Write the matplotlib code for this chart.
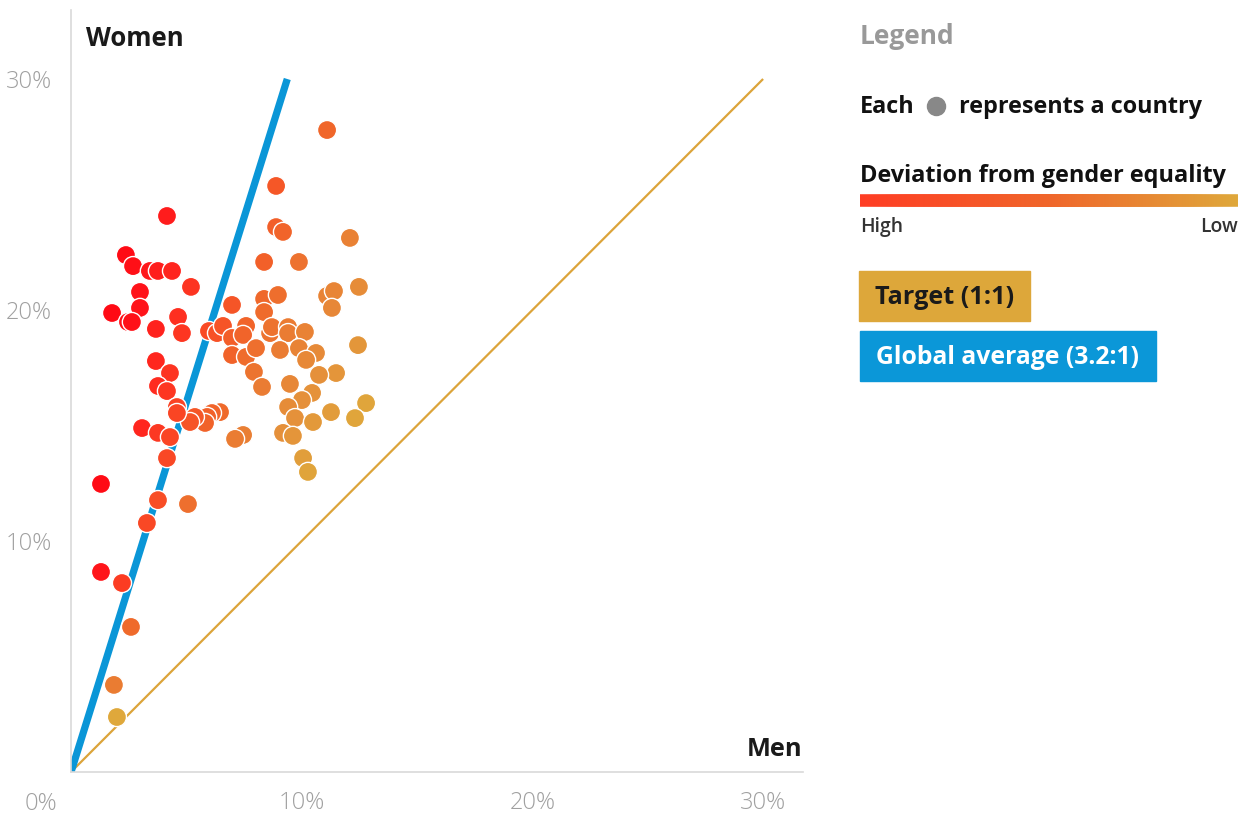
import matplotlib
matplotlib.use("Agg")
import matplotlib.pyplot as plt
import numpy as np
from matplotlib.colors import LinearSegmentedColormap, to_rgb
from matplotlib.patches import FancyBboxPatch
from matplotlib.lines import Line2D

# share of men / women (%) per country
men = [11.10, 4.16, 8.89, 8.89, 9.19, 2.38, 2.69, 3.42, 3.77, 4.38,
       8.37, 9.88, 12.09, 5.20, 2.99, 1.78, 2.99, 2.47, 2.64, 3.68,
       4.64, 4.81, 6.98, 8.37, 8.97, 8.37, 11.10, 11.40, 11.31, 12.48,
       5.98, 6.33, 6.59, 6.98, 6.98, 7.59, 7.46, 7.59, 8.02, 7.93,
       8.28, 8.63, 8.71, 9.41, 9.41, 10.14, 9.06, 9.88, 10.62, 10.19,
       11.49, 10.75, 12.44, 9.49, 10.45, 10.01, 9.41, 9.71, 11.27, 10.49,
       12.79, 12.31, 9.19, 9.62, 10.06, 10.27, 6.46, 6.11, 5.90, 5.81,
       5.37, 5.16, 7.46, 7.11, 3.68, 4.29, 3.77, 4.16, 4.59, 4.59,
       3.08, 3.77, 4.29, 4.16, 1.30, 3.77, 5.07, 3.29, 1.30, 2.21,
       2.60, 1.86, 1.99]
women = [27.79, 24.07, 25.37, 23.59, 23.38, 22.38, 21.90, 21.69, 21.69, 21.69,
         22.08, 22.08, 23.12, 21.00, 20.78, 19.87, 20.09, 19.48, 19.48, 19.18,
         19.70, 19.00, 20.22, 20.48, 20.65, 19.91, 20.61, 20.82, 20.09, 21.00,
         19.09, 19.00, 19.31, 18.79, 18.05, 19.31, 18.92, 17.97, 18.35, 17.32,
         16.67, 19.00, 19.26, 19.26, 19.00, 19.05, 18.27, 18.35, 18.14, 17.84,
         17.27, 17.19, 18.48, 16.80, 16.41, 16.10, 15.80, 15.32, 15.58, 15.15,
         15.97, 15.32, 14.68, 14.55, 13.59, 12.99, 15.58, 15.54, 15.37, 15.11,
         15.37, 15.15, 14.59, 14.42, 17.79, 17.27, 16.71, 16.49, 15.80, 15.54,
         14.89, 14.68, 14.50, 13.59, 12.47, 11.77, 11.60, 10.78, 8.66, 8.18,
         6.28, 3.77, 2.38]

global_ratio = 3.2
target_ratio = 1.0
tick_vals = [10, 20, 30]

# colour by women:men ratio (log scale), gold = near parity, red = far from it
ratio_stops = [1.2, 1.6, 2.0, 2.5, 3.2, 4.5, 7.0, 10.0]
stop_colors = ["#dfa83b", "#e5903a", "#ea7d33", "#f0662a", "#f94a25", "#ff2a1f", "#ff1219", "#ff0a14"]


def ratio_color(r):
    lr = np.log(np.clip(r, ratio_stops[0], ratio_stops[-1]))
    rgb = np.array([to_rgb(c) for c in stop_colors])
    ls = np.log(ratio_stops)
    return tuple(np.interp(lr, ls, rgb[:, k]) for k in range(3))


men = np.array(men)
women = np.array(women)
colors = [ratio_color(w / m) for m, w in zip(men, women)]

plt.rcParams['font.family'] = ['Open Sans', 'DejaVu Sans']


def fy(py):
    # pixel row from the top -> figure fraction
    return 1 - py / 816


fig = plt.figure(figsize=(12.51, 8.16), dpi=100)
ax = fig.add_axes([71 / 1251, 44 / 816, 732 / 1251, 762 / 816])
ax.set_xlim(0, 732 / 23.07)
ax.set_ylim(0, 762 / 23.1)

# reference lines
ax.plot([0, 30 / target_ratio], [0, 30], color="#dca43a", lw=1.6, zorder=2, solid_capstyle='butt')
ax.plot([0, 30 / global_ratio], [0, 30], color="#0a96d7", lw=5.2, zorder=2, solid_capstyle='butt')

ax.scatter(men, women, s=190, c=colors, edgecolors="white", linewidths=1.0, zorder=3)

for s in ['top', 'right']:
    ax.spines[s].set_visible(False)
for s in ['left', 'bottom']:
    ax.spines[s].set_color("#d9d9d9")
    ax.spines[s].set_linewidth(1.2)

ax.set_xticks(tick_vals)
ax.set_yticks(tick_vals)
ax.set_xticklabels([f"{v}%" for v in tick_vals])
ax.set_yticklabels([f"{v}%" for v in tick_vals])
ax.tick_params(axis='x', length=0, labelsize=17, labelcolor="#a0a0a0", pad=14)
ax.tick_params(axis='y', length=0, labelsize=17, labelcolor="#a0a0a0", pad=14)
for lab in ax.get_xticklabels() + ax.get_yticklabels():
    lab.set_fontweight('light')
fig.text(41 / 1251, fy(804), "0%", ha='center', va='center', fontsize=17,
         color="#a0a0a0", fontweight='light')

fig.text(86 / 1251, fy(38), "Women", ha='left', va='center', fontsize=18.5,
         fontweight='bold', color="#1a1a1a")
fig.text(802 / 1251, fy(750), "Men", ha='right', va='center', fontsize=18.3,
         fontweight='bold', color="#1a1a1a")

# legend panel
lx = 860 / 1251
fig.text(lx, fy(37), "Legend", ha='left', va='center', fontsize=19,
         fontweight='bold', color="#999999")
fig.text(lx, fy(107), "Each", ha='left', va='center', fontsize=16.8,
         fontweight='bold', color="#111111")
fig.add_artist(Line2D([936 / 1251], [fy(106)], marker='o', markersize=13,
                      color="#888888", transform=fig.transFigure))
fig.text(959 / 1251, fy(107), "represents a country", ha='left', va='center',
         fontsize=16.8, fontweight='bold', color="#111111")
fig.text(lx, fy(176), "Deviation from gender equality", ha='left', va='center',
         fontsize=16.9, fontweight='bold', color="#111111")

# gradient bar
bar_ax = fig.add_axes([860 / 1251, fy(207), 378 / 1251, 13 / 816])
grad_cmap = LinearSegmentedColormap.from_list("dev", ["#ff3d24", "#f0662b", "#dfa83b"])
img = bar_ax.imshow(np.linspace(0, 1, 256)[None, :], aspect='auto', cmap=grad_cmap,
                    extent=[0, 1, 0, 1])
clip = FancyBboxPatch((0, 0), 1, 1, boxstyle="round,pad=0,rounding_size=0.5",
                      mutation_aspect=1 / 29, transform=bar_ax.transData, facecolor='none',
                      edgecolor='none')
bar_ax.add_patch(clip)
img.set_clip_path(clip)
bar_ax.set_xlim(0, 1)
bar_ax.set_ylim(0, 1)
bar_ax.axis('off')

fig.text(lx, fy(227), "High", ha='left', va='center', fontsize=13.9,
         fontweight='semibold', color="#333333")
fig.text(1238 / 1251, fy(227), "Low", ha='right', va='center', fontsize=13.9,
         fontweight='semibold', color="#333333")

# line key boxes
fig.patches.append(plt.Rectangle((859 / 1251, fy(321)), 171 / 1251, 50 / 816,
                                 transform=fig.transFigure, color="#dda73a", figure=fig))
fig.text(875 / 1251, fy(297), "Target (1:1)", ha='left', va='center', fontsize=18.2,
         fontweight='bold', color="#1a1a1a")
fig.patches.append(plt.Rectangle((860 / 1251, fy(381)), 296 / 1251, 50 / 816,
                                 transform=fig.transFigure, color="#0b97d8", figure=fig))
fig.text(876 / 1251, fy(357), "Global average (3.2:1)", ha='left', va='center',
         fontsize=17.8, fontweight='bold', color="white")

fig.savefig("out.png", dpi=100)
